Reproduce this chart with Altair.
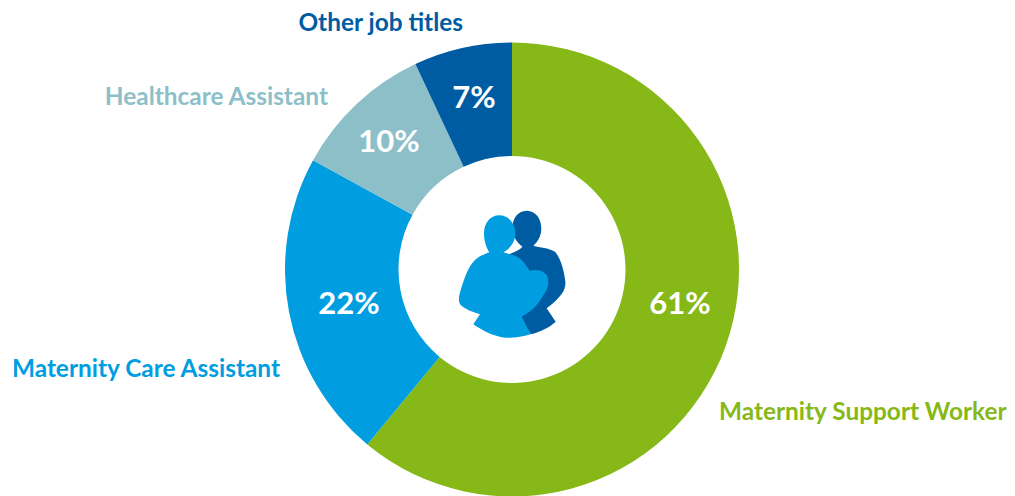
import altair as alt
import pandas as pd

titles = ["Maternity Support Worker", "Maternity Care Assistant", "Healthcare Assistant", "Other job titles"]
shares = [61, 22, 10, 7]
colours = ["#86B817", "#009EE0", "#8DBFC9", "#005CA2"]

W, H = 999, 488
CX, CY = 504, 261.5
FONT = "Lato"

df = pd.DataFrame({"title": titles, "share": shares, "rank": range(4),
                   "pct": [f"{s}%" for s in shares]})

arcs = alt.Chart(df).mark_arc(radius=227, radius2=113.5, strokeWidth=0).encode(
    theta=alt.Theta("share:Q", stack=True, scale=alt.Scale(domain=[0, 100])),
    order=alt.Order("rank:O"),
    color=alt.Color("title:N", scale=alt.Scale(domain=titles, range=colours), legend=None),
    x=alt.value(CX), y=alt.value(CY),
)

layers = [arcs]

# label placement, in chart pixels
pct_pos = [(672, 297), (341, 297), (381, 135), (466, 91)]
title_pos = [(711, 405, "left"), (272, 362, "right"), (320, 90, "right"), (455, 16, "right")]

for i, t in enumerate(titles):
    row = df.iloc[[i]]
    px, py = pct_pos[i]
    layers.append(alt.Chart(row).mark_text(font=FONT, fontWeight="bold", fontSize=31, color="white",
                                           align="center", baseline="middle").encode(
        text="pct:N", x=alt.value(px), y=alt.value(py)))
    tx, ty, al = title_pos[i]
    layers.append(alt.Chart(row).mark_text(font=FONT, fontWeight="bold", fontSize=24.4, color=colours[i],
                                           align=al, baseline="middle").encode(
        text="title:N", x=alt.value(tx), y=alt.value(ty)))

# central icon: two silhouettes, path units are 3x page pixels from the icon corner
dark_path = ("M260 47 C288 47 304 72 304 100 C304 125 292 142 280 152 C300 158 325 158 345 170 "
             "C362 190 372 225 376 260 C378 285 365 305 320 340 L347 380 C325 400 300 410 272 418 "
             "L200 300 L205 178 C222 172 240 165 247 155 C228 140 217 122 217 100 C217 72 232 47 260 47 Z")
light_path = ("M178 61 C205 61 226 85 226 115 C226 140 212 160 190 172 C210 178 232 182 245 195 "
              "C255 205 262 218 270 228 C285 222 305 224 318 238 C330 255 325 280 312 298 "
              "C298 320 285 345 245 365 L272 418 C245 426 220 430 195 428 C160 425 125 405 100 388 "
              "L120 358 C95 350 75 342 62 330 C52 318 58 298 65 275 C75 245 85 215 105 195 "
              "C118 182 135 178 148 172 C140 160 132 140 132 115 C132 85 150 61 178 61 Z")
for path, col in [(dark_path, colours[3]), (light_path, colours[1])]:
    layers.append(alt.Chart(df.iloc[[0]]).mark_point(shape=path, filled=True, size=4 / 9, color=col,
                                                     opacity=1, strokeWidth=0).encode(
        x=alt.value(432), y=alt.value(187)))

chart = alt.layer(*layers).properties(
    width=W, height=H, padding=0, autosize=alt.AutoSizeParams(type="none"), background="white",
).configure_view(stroke=None)

chart.save("out.html", embed_options={"renderer": "svg", "actions": False})
